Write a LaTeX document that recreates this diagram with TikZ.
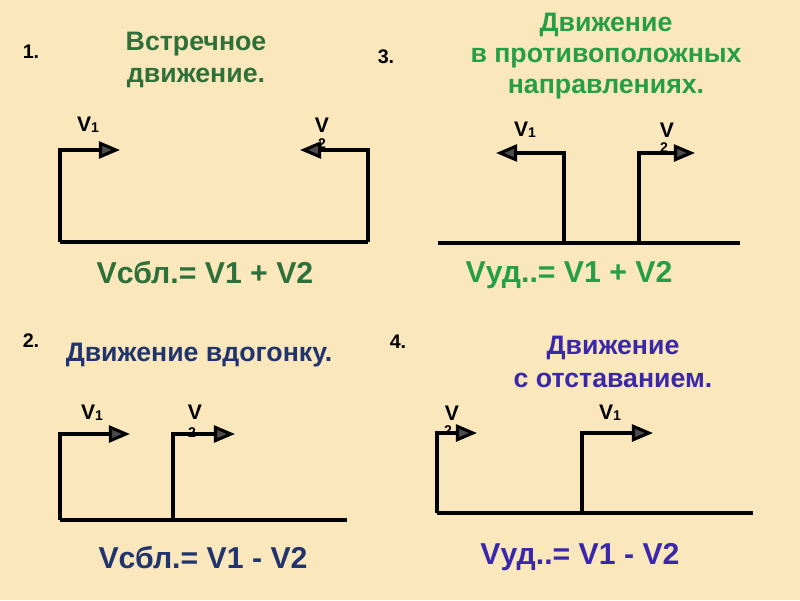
\documentclass[tikz,border=0pt]{standalone}
\usepackage{fontspec}
\setmainfont{Liberation Sans}
\usepackage{xcolor}
\usetikzlibrary{arrows.meta}

\definecolor{bgcol}{RGB}{250,231,188}
\definecolor{dgreen}{RGB}{46,112,58}
\definecolor{lgreen}{RGB}{38,158,72}
\definecolor{navy}{RGB}{32,52,110}
\definecolor{violet}{RGB}{58,40,170}

\newcommand{\vone}{V\raisebox{-0.5pt}{\fontsize{10}{11}\selectfont 1}}

\begin{document}
\begin{tikzpicture}[
    x=0.025cm, y=-0.025cm,
    every node/.style={font=\bfseries, inner sep=0pt},
    num/.style={font=\fontsize{14}{16}\selectfont\bfseries},
    title/.style={align=center, text=#1, font=\fontsize{19}{23}\selectfont\bfseries},
    formula/.style={text=#1, font=\fontsize{21.5}{24}\selectfont\bfseries},
    vlab/.style={font=\fontsize{15}{17}\selectfont\bfseries},
    sub/.style={font=\fontsize{10}{12}\selectfont\bfseries},
    track/.style={line width=2.2pt, line join=miter},
    mov/.style={line width=2.2pt, line join=miter, -{Triangle[length=15pt, width=12pt, fill=black!70]}},
]
    \useasboundingbox (0,0) rectangle (800,600);
    \fill[bgcol] (0,0) rectangle (800,600);

    % 1. towards each other
    \node[num] (n1) at (31,52) {1.};
    \node[title=dgreen] (t1) at (196,60) {Встречное\\движение.};
    \node[vlab] (v1a) at (88,125) {\vone};
    \node[vlab] (v1b) at (322,125) {V};
    \node[sub]  (s1b) at (322,144) {2};
    \coordinate (a1) at (60,242);
    \coordinate (b1) at (368,242);
    \coordinate (a1c) at (60,150);
    \coordinate (b1c) at (368,150);
    \coordinate (a1t) at (120,150);
    \coordinate (b1t) at (300,150);
    \draw[track] (a1) -- (b1);
    \draw[mov] (a1) -- (a1c) -- (a1t);
    \draw[mov] (b1) -- (b1c) -- (b1t);
    \node[formula=dgreen] (f1) at (205,273) {Vсбл.= V1 + V2};

    % 3. opposite directions
    \node[num] (n3) at (386,57) {3.};
    \node[title=lgreen, font=\fontsize{19}{22}\selectfont\bfseries] (t3) at (606,56) {Движение\\в противоположных\\направлениях.};
    \node[vlab] (v3a) at (525,130) {\vone};
    \node[vlab] (v3b) at (667,130) {V};
    \node[sub]  (s3b) at (664,148) {2};
    \coordinate (a3) at (564,243);
    \coordinate (b3) at (639,243);
    \coordinate (l3) at (438,243);
    \coordinate (r3) at (740,243);
    \coordinate (a3c) at (564,153);
    \coordinate (b3c) at (639,153);
    \coordinate (a3t) at (496,153);
    \coordinate (b3t) at (695,153);
    \draw[track] (l3) -- (r3);
    \draw[mov] (a3) -- (a3c) -- (a3t);
    \draw[mov] (b3) -- (b3c) -- (b3t);
    \node[formula=lgreen] (f3) at (569,275) {Vуд..= V1 + V2};

    % 2. catching up
    \node[num] (n2) at (31,341) {2.};
    \node[title=navy] (t2) at (199,355) {Движение вдогонку.};
    \node[vlab] (v2a) at (92,413) {\vone};
    \node[vlab] (v2b) at (195,412) {V};
    \node[sub]  (s2b) at (192,433) {2};
    \coordinate (a2) at (60,520);
    \coordinate (b2) at (173,520);
    \coordinate (r2) at (347,520);
    \coordinate (a2c) at (60,434);
    \coordinate (b2c) at (173,434);
    \coordinate (a2t) at (130,434);
    \coordinate (b2t) at (235,434);
    \draw[track] (a2) -- (r2);
    \draw[mov] (a2) -- (a2c) -- (a2t);
    \draw[mov] (b2) -- (b2c) -- (b2t);
    \node[formula=navy] (f2) at (203,558) {Vсбл.= V1 - V2};

    % 4. falling behind
    \node[num] (n4) at (398,342) {4.};
    \node[title=violet, font=\fontsize{19}{23}\selectfont\bfseries] (t4) at (613,362) {Движение\\с отставанием.};
    \node[vlab] (v4a) at (452,413) {V};
    \node[sub]  (s4a) at (448,431) {2};
    \node[vlab] (v4b) at (610,413) {\vone};
    \coordinate (a4) at (437,513);
    \coordinate (b4) at (582,513);
    \coordinate (r4) at (753,513);
    \coordinate (a4c) at (437,433);
    \coordinate (b4c) at (582,433);
    \coordinate (a4t) at (477,433);
    \coordinate (b4t) at (653,433);
    \draw[track] (a4) -- (r4);
    \draw[mov] (a4) -- (a4c) -- (a4t);
    \draw[mov] (b4) -- (b4c) -- (b4t);
    \node[formula=violet] (f4) at (580,557) {Vуд..= V1 - V2};
\end{tikzpicture}
\end{document}
